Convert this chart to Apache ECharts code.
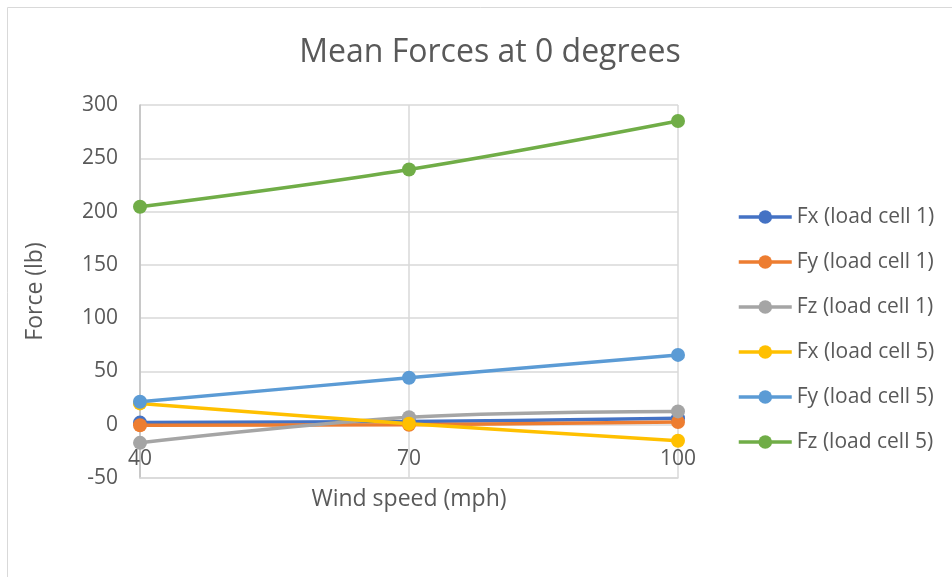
<!DOCTYPE html>
<html>
<head>
<meta charset="utf-8">
<script src="https://cdn.jsdelivr.net/npm/echarts@6/dist/echarts.min.js"></script>
<style>
  html, body { margin: 0; padding: 0; background: #fff; }
  #chart { width: 952px; height: 577px; }
</style>
</head>
<body>
<div id="chart"></div>
<script>
// wind speeds (mph)
var windSpeed = [40, 70, 100];
var seriesNames = [
  "Fx (load cell 1)", "Fy (load cell 1)", "Fz (load cell 1)",
  "Fx (load cell 5)", "Fy (load cell 5)", "Fz (load cell 5)"
];
var fx1 = [2, 3, 6];
var fy1 = [-0.5, 0, 2.5];
var fz1 = [-17, 7, 12.5];
var fx5 = [20, 1, -15];
var fy5 = [21.5, 44, 65.5];
var fz5 = [204.5, 239.5, 285];
var colors = ["#4472c4", "#ed7d31", "#a5a5a5", "#ffc000", "#5b9bd5", "#70ad47"];

var allValues = [fx1, fy1, fz1, fx5, fy5, fz5];
var font = "'Open Sans', 'Noto Sans', sans-serif";

function pairs(vals) {
  return vals.map(function (v, i) { return [windSpeed[i], v]; });
}

var myChart = echarts.init(document.getElementById("chart"));

var options = {
  animation: false,
  color: colors,
  textStyle: { fontFamily: font },
  title: {
    text: "Mean Forces at 0 degrees",
    left: 485,
    textAlign: "center",
    top: 32,
    textStyle: { fontSize: 32, fontWeight: "normal", color: "#595959", fontFamily: font }
  },
  graphic: [{
    type: "rect",
    shape: { x: 7.5, y: 7.5, width: 1000, height: 1000 },
    style: { fill: null, stroke: "#d9d9d9", lineWidth: 1 },
    silent: true,
    z: -10
  }],
  legend: {
    orient: "vertical",
    left: 732,
    top: 200,
    itemWidth: 53,
    itemHeight: 17,
    itemGap: 21,
    data: seriesNames,
    lineStyle: { width: 3.5 },
    textStyle: { fontSize: 21, color: "#595959", lineHeight: 24, fontFamily: font }
  },
  grid: {
    left: 140,
    right: 274,
    top: 105,
    bottom: 99
  },
  xAxis: [{
    // main axis at the bottom of the plot (-50): line, gridlines, title
    type: "value",
    min: 40,
    max: 100,
    interval: 30,
    position: "bottom",
    name: "Wind speed (mph)",
    nameLocation: "middle",
    nameGap: 10,
    nameTextStyle: { fontSize: 23, color: "#595959" },
    axisLine: { show: true, onZero: false, lineStyle: { color: "#d9d9d9", width: 1.5 } },
    axisTick: { show: false },
    axisLabel: { show: false },
    splitLine: { show: true, lineStyle: { color: "#d9d9d9", width: 1.5 } }
  }, {
    // tick labels sitting under the zero line
    type: "value",
    min: 40,
    max: 100,
    interval: 30,
    position: "bottom",
    offset: -53,
    axisLine: { show: false, onZero: false },
    axisTick: { show: false },
    axisLabel: { fontSize: 21, color: "#595959", margin: 24 },
    splitLine: { show: false }
  }],
  yAxis: {
    type: "value",
    min: -50,
    max: 300,
    interval: 50,
    name: "Force (lb)",
    nameLocation: "middle",
    nameGap: 93,
    nameTextStyle: { fontSize: 23, color: "#595959" },
    axisLine: { show: true, onZero: false, lineStyle: { color: "#bfbfbf", width: 1.5 } },
    axisTick: { show: false },
    axisLabel: { fontSize: 21, color: "#595959", margin: 22 },
    splitLine: { show: true, lineStyle: { color: "#d9d9d9", width: 1.5 } }
  },
  series: allValues.map(function (vals, i) {
    return {
      name: seriesNames[i],
      type: "line",
      xAxisIndex: 0,
      data: pairs(vals),
      smooth: 0.35,
      symbol: "circle",
      symbolSize: 14,
      lineStyle: { width: 3.5 },
      itemStyle: { color: colors[i] }
    };
  })
};

myChart.setOption(options);
</script>
</body>
</html>
